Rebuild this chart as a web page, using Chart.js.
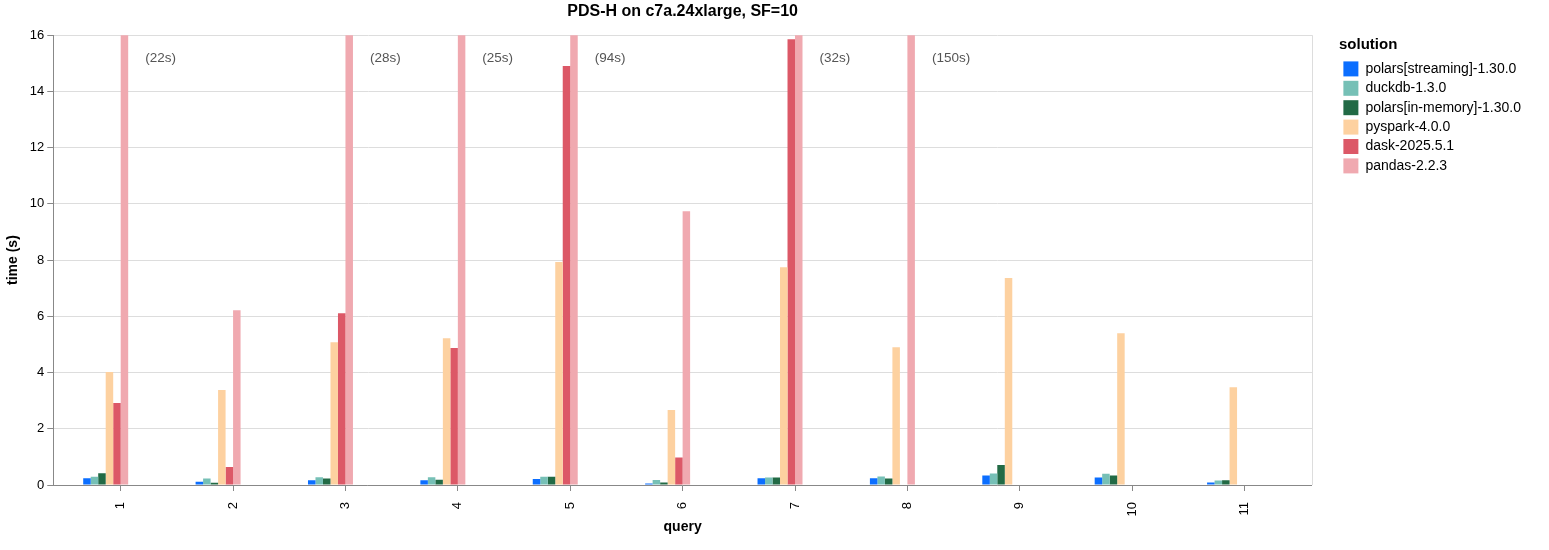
<!DOCTYPE html>
<html>
<head>
<meta charset="utf-8">
<script src="https://cdn.jsdelivr.net/npm/chart.js@4.4.1/dist/chart.umd.min.js"></script>
<style>
  html, body { margin: 0; padding: 0; background: #fff; }
  #wrap { width: 1549px; height: 550px; }
</style>
</head>
<body>
<div id="wrap"><canvas id="chart"></canvas></div>
<script>
const queries = ['1', '2', '3', '4', '5', '6', '7', '8', '9', '10', '11'];

const polarsStreaming = [0.24, 0.12, 0.17, 0.17, 0.21, 0.05, 0.24, 0.24, 0.34, 0.27, 0.085];
const duckdb          = [0.29, 0.23, 0.28, 0.28, 0.29, 0.18, 0.27, 0.30, 0.41, 0.40, 0.16];
const polarsInMemory  = [0.42, 0.08, 0.23, 0.19, 0.29, 0.085, 0.27, 0.23, 0.71, 0.34, 0.17];
const pyspark         = [4.02, 3.38, 5.08, 5.22, 7.93, 2.67, 7.75, 4.90, 7.36, 5.40, 3.48];
const dask            = [2.92, 0.64, 6.11, 4.87, 14.9, 0.98, 15.86, null, null, null, null];
const pandas          = [22, 6.22, 28, 25, 94, 9.74, 32, 150, null, null, null];

const yMax = 16;
const yTicks = [0, 2, 4, 6, 8, 10, 12, 14, 16];

const font = '"Liberation Sans", Arial, Helvetica, sans-serif';

// empty slots: the original grouping reserves room for more solutions
const emptySlots = ['_a', '_b', '_c', '_d'].map(name => ({ label: name, data: [], backgroundColor: 'rgba(0,0,0,0)' }));

// "(22s)" notes next to pandas bars that go past the top of the axis
const overflowNotes = {
    id: 'overflowNotes',
    afterDatasetsDraw(chart) {
        const { ctx, chartArea } = chart;
        const meta = chart.getDatasetMeta(5);
        ctx.save();
        ctx.font = '13.5px ' + font;
        ctx.fillStyle = '#555';
        ctx.textBaseline = 'middle';
        meta.data.forEach((bar, i) => {
            const v = pandas[i];
            if (v == null || v <= yMax) return;
            ctx.fillText('(' + Math.round(v) + 's)', bar.x + bar.width / 2 + 17, chartArea.top + 23);
        });
        // light frame on the right side of the plot
        ctx.strokeStyle = '#ddd';
        ctx.lineWidth = 1;
        ctx.beginPath();
        ctx.moveTo(chartArea.right + 0.5, chartArea.top);
        ctx.lineTo(chartArea.right + 0.5, chartArea.bottom);
        ctx.stroke();
        ctx.restore();
    }
};

new Chart(document.getElementById('chart'), {
    type: 'bar',
    data: {
        labels: queries,
        datasets: [
            { label: 'polars[streaming]-1.30.0', data: polarsStreaming, backgroundColor: '#0b6eff' },
            { label: 'duckdb-1.3.0', data: duckdb, backgroundColor: '#76c0b6' },
            { label: 'polars[in-memory]-1.30.0', data: polarsInMemory, backgroundColor: '#226a45' },
            { label: 'pyspark-4.0.0', data: pyspark, backgroundColor: '#fdd1a0' },
            { label: 'dask-2025.5.1', data: dask, backgroundColor: '#dc5867' },
            { label: 'pandas-2.2.3', data: pandas, backgroundColor: '#f0a9b0' },
            ...emptySlots
        ]
    },
    options: {
        responsive: true,
        maintainAspectRatio: false,
        animation: false,
        categoryPercentage: 0.667,
        barPercentage: 1.0,
        layout: { padding: { left: 1, right: 18, top: 0, bottom: 0 } },
        scales: {
            x: {
                afterBuildTicks: (scale) => {
                    // outer padding of 0.6 band on both sides
                    scale._startValue = -0.6;
                    scale._valueRange = queries.length + 0.2;
                },
                afterFit: (scale) => { scale.height = 65; },
                grid: { offset: false, drawOnChartArea: false, color: '#888', tickLength: 6 },
                border: { color: '#888' },
                ticks: { minRotation: 90, maxRotation: 90, color: '#000', padding: 11, font: { size: 13, family: font } },
                title: { display: true, text: 'query', color: '#000', font: { size: 14, weight: 'bold', family: font }, padding: { top: 0, bottom: 14 } }
            },
            y: {
                min: 0,
                max: yMax,
                afterBuildTicks: (scale) => { scale.ticks = yTicks.map(v => ({ value: v })); },
                grid: { color: '#ddd', tickColor: '#888', tickLength: 6 },
                border: { color: '#888' },
                ticks: { color: '#000', padding: 3, font: { size: 13, family: font } },
                title: { display: true, text: 'time (s)', color: '#000', font: { size: 14, weight: 'bold', family: font }, padding: { top: 4, bottom: 5 } }
            },
            // empty axis on the right: keeps a gap between plot and legend
            gap: {
                position: 'right',
                display: true,
                grid: { display: false, drawTicks: false },
                border: { display: false },
                ticks: { display: false },
                afterFit: (scale) => { scale.width = 27; }
            }
        },
        plugins: {
            title: {
                display: true,
                fullSize: false,
                text: 'PDS-H on c7a.24xlarge, SF=10',
                color: '#000',
                font: { size: 16, weight: 'bold', family: font },
                padding: { top: 2, bottom: 14 }
            },
            legend: {
                position: 'right',
                align: 'start',
                title: { display: true, position: 'start', text: 'solution', color: '#000', font: { size: 15, weight: 'bold', family: font }, padding: { top: 37, bottom: 2 } },
                labels: {
                    boxWidth: 15,
                    boxHeight: 15,
                    padding: 4.4,
                    color: '#000',
                    font: { size: 14, family: font },
                    filter: (item) => !item.text.startsWith('_')
                }
            },
            tooltip: { enabled: false }
        }
    },
    plugins: [overflowNotes]
});
</script>
</body>
</html>
